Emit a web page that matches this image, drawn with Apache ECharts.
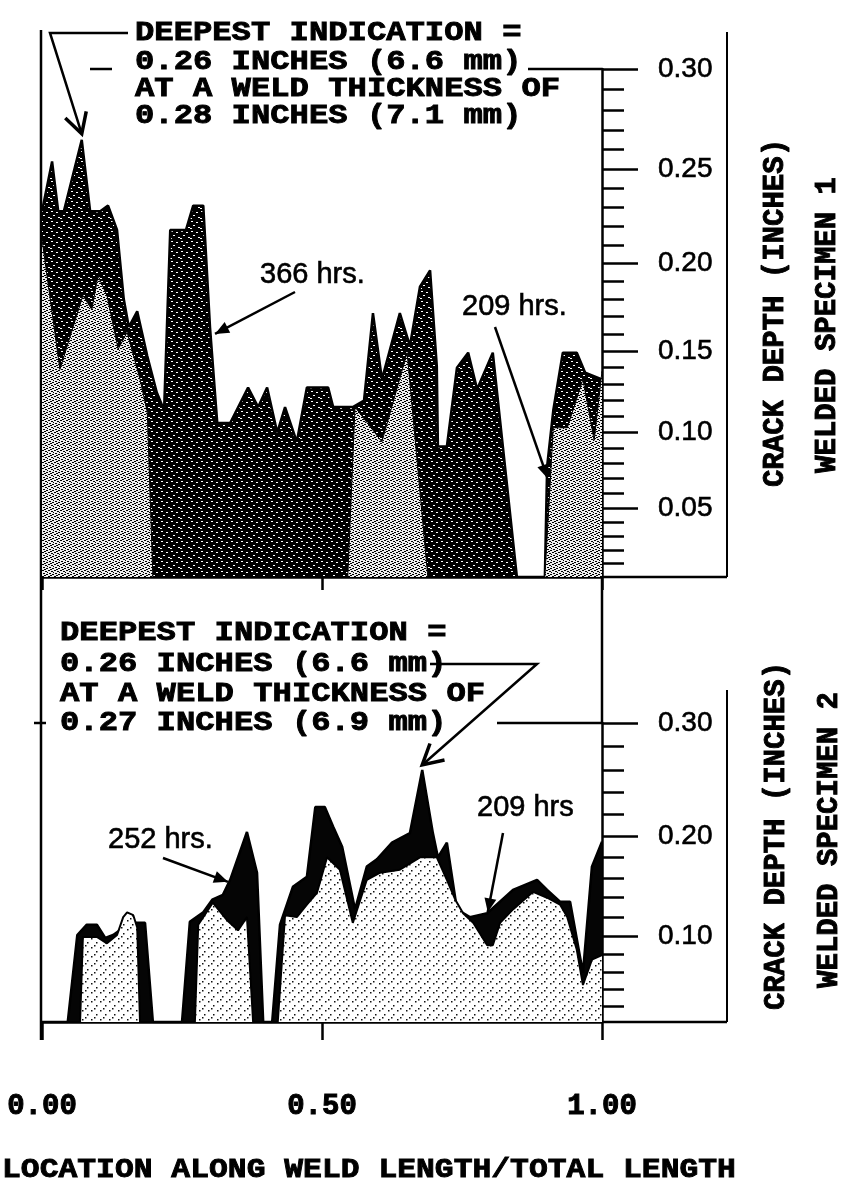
<!DOCTYPE html>
<html>
<head>
<meta charset="utf-8">
<title>Crack depth along weld length</title>
<script src="https://cdn.jsdelivr.net/npm/echarts@6/dist/echarts.min.js"></script>
<style>
  html, body { margin: 0; padding: 0; background: #fff; }
  #chart { width: 853px; height: 1192px; }
</style>
</head>
<body>
<div id="chart"></div>
<script>
// welded specimen 1 (upper panel)
const spec1LongX = [0.000, 0.018, 0.029, 0.039, 0.071, 0.086, 0.104, 0.118, 0.134, 0.146, 0.155, 0.170, 0.188, 0.205, 0.218,
  0.229, 0.257, 0.270, 0.288, 0.300, 0.313, 0.336, 0.368, 0.386, 0.402, 0.420, 0.434, 0.455, 0.473, 0.511, 0.520, 0.555,
  0.575, 0.591, 0.607, 0.639, 0.657, 0.675, 0.693, 0.705, 0.707, 0.723, 0.741, 0.761, 0.777, 0.805, 0.823, 0.848, 0.898,
  0.902, 0.913, 0.930, 0.955, 0.970, 1.000];
const spec1LongDepth = [0.228, 0.254, 0.228, 0.228, 0.265, 0.228, 0.228, 0.231, 0.218, 0.180, 0.164, 0.173, 0.147, 0.125, 0.114,
  0.218, 0.218, 0.231, 0.231, 0.164, 0.106, 0.106, 0.128, 0.116, 0.128, 0.100, 0.116, 0.094, 0.128, 0.128, 0.116, 0.116,
  0.120, 0.172, 0.133, 0.172, 0.153, 0.187, 0.196, 0.141, 0.091, 0.091, 0.140, 0.149, 0.127, 0.149, 0.091, 0.000, 0.000,
  0.078, 0.114, 0.149, 0.149, 0.137, 0.133];
const spec1ShortX = [0.000, 0.032, 0.073, 0.089, 0.100, 0.116, 0.136, 0.152, 0.175, 0.188, 0.198, 0.546, 0.559, 0.607,
  0.652, 0.689, 0.898, 0.913, 0.938, 0.966, 0.986, 1.000];
const spec1ShortDepth = [0.213, 0.139, 0.182, 0.174, 0.193, 0.182, 0.151, 0.161, 0.133, 0.113, 0.000, 0.000, 0.116, 0.094,
  0.149, 0.000, 0.000, 0.103, 0.103, 0.133, 0.095, 0.138];

// welded specimen 2 (lower panel)
const spec2LongX = [0.000, 0.046, 0.063, 0.080, 0.098, 0.113, 0.127, 0.139, 0.163, 0.184, 0.198, 0.250, 0.264, 0.288, 0.304,
  0.323, 0.336, 0.366, 0.384, 0.395, 0.411, 0.425, 0.448, 0.473, 0.488, 0.505, 0.520, 0.536, 0.559, 0.580, 0.598, 0.625,
  0.657, 0.679, 0.698, 0.707, 0.723, 0.741, 0.764, 0.795, 0.841, 0.884, 0.902, 0.925, 0.943, 0.966, 0.982, 1.000];
const spec2LongDepth = [0.000, 0.000, 0.101, 0.112, 0.112, 0.098, 0.101, 0.106, 0.114, 0.114, 0.000, 0.000, 0.115, 0.125, 0.138,
  0.143, 0.158, 0.204, 0.165, 0.000, 0.000, 0.112, 0.151, 0.161, 0.227, 0.227, 0.209, 0.190, 0.128, 0.171, 0.178, 0.194,
  0.203, 0.260, 0.203, 0.180, 0.194, 0.128, 0.120, 0.124, 0.148, 0.158, 0.148, 0.136, 0.136, 0.059, 0.171, 0.195];
const spec2ShortX = [0.000, 0.068, 0.073, 0.098, 0.116, 0.134, 0.145, 0.152, 0.163, 0.170, 0.175, 0.273, 0.279, 0.305, 0.330,
  0.350, 0.366, 0.377, 0.421, 0.434, 0.455, 0.473, 0.491, 0.509, 0.532, 0.555, 0.580, 0.604, 0.639, 0.675, 0.705, 0.723,
  0.738, 0.752, 0.770, 0.795, 0.805, 0.818, 0.841, 0.877, 0.902, 0.925, 0.938, 0.955, 0.966, 0.982, 1.000];
const spec2ShortDepth = [0.000, 0.000, 0.099, 0.099, 0.092, 0.101, 0.120, 0.125, 0.122, 0.109, 0.000, 0.000, 0.112, 0.135, 0.117,
  0.106, 0.120, 0.000, 0.000, 0.122, 0.120, 0.133, 0.145, 0.180, 0.168, 0.114, 0.158, 0.165, 0.168, 0.180, 0.180, 0.158,
  0.138, 0.124, 0.114, 0.090, 0.090, 0.114, 0.128, 0.146, 0.140, 0.133, 0.120, 0.085, 0.045, 0.074, 0.079];

const xTickValues = [0, 0.5, 1];
const xTickLabels = ['0.00', '0.50', '1.00'];
const spec1TickLabels = ['0.05', '0.10', '0.15', '0.20', '0.25', '0.30'];
const spec2TickLabels = ['0.10', '0.20', '0.30'];

const MONO = '"Liberation Mono", "Courier New", monospace';
const SANS = '"Liberation Sans", Arial, sans-serif';

// the printed depth scales are not linear: tick spacing shrinks toward zero
const K1 = 0.94;
const K2 = 0.86;
function stretch(v, k) { return v + k * v * v; }
function unstretch(t, k) { return (-1 + Math.sqrt(1 + 4 * k * t)) / (2 * k); }
function pairs(xs, vs, k) { return xs.map((x, i) => [x, stretch(vs[i], k)]); }

function tile(size, bg, fg, dots, w, h) {
  const c = document.createElement('canvas');
  c.width = size; c.height = size;
  const ctx = c.getContext('2d');
  ctx.fillStyle = bg;
  ctx.fillRect(0, 0, size, size);
  ctx.fillStyle = fg;
  dots.forEach(d => ctx.fillRect(d[0], d[1], w, h));
  return { image: c, repeat: 'repeat' };
}
const darkFill = tile(10, '#000', '#fff', [[1, 1], [6, 2], [3, 5], [8, 7], [0, 8]], 2, 1);
const lightFill1 = tile(6, '#eeeeee', '#000', [[0, 0], [3, 1], [1, 3], [4, 4], [2, 5], [5, 2]], 2, 1);
const lightFill2 = tile(9, '#fff', '#111', [[1, 2], [6, 6], [4, 0]], 1.5, 1.5);

function minorTicks(step, count, k) {
  let out = [];
  for (let i = 1; i <= count; i++) out.push(stretch(+(i * step).toFixed(2), k));
  return out;
}

const GRID_TOP = { left: 42, top: 69, width: 560, height: 508 };
const GRID_BOTTOM = { left: 42, top: 723, width: 560, height: 299 };

function majorAxis(grid, k, labels) {
  const ticks = labels.map(s => stretch(parseFloat(s), k));
  return {
    gridIndex: grid, type: 'value', position: 'right', min: 0, max: stretch(0.30, k),
    axisLine: { show: true, onZero: false, lineStyle: { color: '#000', width: 2.5 } },
    axisTick: { show: true, customValues: ticks, length: 36, lineStyle: { color: '#000', width: 2.5 } },
    axisLabel: {
      show: true, customValues: ticks, margin: 56,
      formatter: v => unstretch(v, k).toFixed(2),
      color: '#000', fontFamily: SANS, fontSize: 28,
      textBorderColor: '#000', textBorderWidth: 0.6
    },
    splitLine: { show: false }
  };
}
// minor ticks live on a twin grid so both tick lengths sit on the right side
function minorAxis(grid, k, step, count) {
  return {
    gridIndex: grid, type: 'value', position: 'right', min: 0, max: stretch(0.30, k),
    axisLine: { show: false, onZero: false },
    axisTick: { show: true, customValues: minorTicks(step, count, k), length: 22, lineStyle: { color: '#000', width: 2.5 } },
    axisLabel: { show: false }, splitLine: { show: false }
  };
}

function xAxisFor(grid, tickLen, showLabels) {
  return {
    gridIndex: grid, type: 'value', min: 0, max: 1,
    axisLine: { show: true, onZero: false, lineStyle: { color: '#000', width: 2.5 } },
    axisTick: { show: true, customValues: xTickValues, length: tickLen, lineStyle: { color: '#000', width: 2.5 } },
    axisLabel: {
      show: showLabels, customValues: xTickValues, margin: 70,
      formatter: v => xTickLabels[xTickValues.findIndex(t => Math.abs(t - v) < 1e-6)],
      color: '#000', fontFamily: MONO, fontWeight: 'bold', fontSize: 29,
      textBorderColor: '#000', textBorderWidth: 1
    },
    splitLine: { show: false }
  };
}

const chart = echarts.init(document.getElementById('chart'));
chart.setOption({
  animation: false,
  backgroundColor: '#fff',
  grid: [GRID_TOP, GRID_BOTTOM, GRID_TOP, GRID_BOTTOM],
  xAxis: [
    xAxisFor(0, 13, false),
    xAxisFor(1, 18, true),
    { gridIndex: 2, type: 'value', min: 0, max: 1, show: false, axisLine: { onZero: false } },
    { gridIndex: 3, type: 'value', min: 0, max: 1, show: false, axisLine: { onZero: false } }
  ],
  yAxis: [
    majorAxis(0, K1, spec1TickLabels),
    majorAxis(1, K2, spec2TickLabels),
    minorAxis(2, K1, 0.01, 30),
    minorAxis(3, K2, 0.02, 15)
  ],
  series: [
    {
      name: '366 hrs.', type: 'line', xAxisIndex: 0, yAxisIndex: 0, z: 2,
      data: pairs(spec1LongX, spec1LongDepth, K1), symbol: 'none',
      lineStyle: { color: '#000', width: 2.5 }, areaStyle: { color: darkFill, opacity: 1 }
    },
    {
      name: '209 hrs.', type: 'line', xAxisIndex: 0, yAxisIndex: 0, z: 3,
      data: pairs(spec1ShortX, spec1ShortDepth, K1), symbol: 'none',
      lineStyle: { color: '#000', width: 1 }, areaStyle: { color: lightFill1, opacity: 1 }
    },
    {
      name: '252 hrs.', type: 'line', xAxisIndex: 1, yAxisIndex: 1, z: 2,
      data: pairs(spec2LongX, spec2LongDepth, K2), symbol: 'none',
      lineStyle: { color: '#000', width: 2.5 }, areaStyle: { color: '#050505', opacity: 1 }
    },
    {
      name: '209 hrs', type: 'line', xAxisIndex: 1, yAxisIndex: 1, z: 3,
      data: pairs(spec2ShortX, spec2ShortDepth, K2), symbol: 'none',
      lineStyle: { color: '#000', width: 2 }, areaStyle: { color: lightFill2, opacity: 1 }
    }
  ]
});

// ---- annotations ----
function toPx(seriesIndex, x, v, k) {
  return chart.convertToPixel({ seriesIndex: seriesIndex }, [x, stretch(v, k)]);
}
function peakOf(xs, vs) {
  let best = 0;
  vs.forEach((v, i) => { if (v > vs[best]) best = i; });
  return [xs[best], vs[best]];
}
function text(str, x, y, font, opts) {
  opts = opts || {};
  return {
    type: 'text', x: x, y: y, silent: true,
    rotation: opts.rotation || 0, scaleX: opts.scaleX || 1,
    style: {
      text: str, font: font, fill: '#000',
      stroke: '#000', lineWidth: opts.heavy || 0,
      textAlign: opts.align || 'left', align: opts.align || 'left',
      textVerticalAlign: 'middle', verticalAlign: 'middle'
    }
  };
}
function seg(x1, y1, x2, y2, w) {
  return { type: 'line', silent: true, shape: { x1: x1, y1: y1, x2: x2, y2: y2 }, style: { stroke: '#000', lineWidth: w || 2.5 } };
}
function head(tail, tip, len, half, filled) {
  const dx = tip[0] - tail[0], dy = tip[1] - tail[1];
  const d = Math.hypot(dx, dy);
  const ux = dx / d, uy = dy / d;
  const bx = tip[0] - ux * len, by = tip[1] - uy * len;
  const p1 = [bx - uy * half, by + ux * half];
  const p2 = [bx + uy * half, by - ux * half];
  if (filled) return { type: 'polygon', silent: true, shape: { points: [tip, p1, p2] }, style: { fill: '#000' } };
  return { type: 'polyline', silent: true, shape: { points: [p1, tip, p2] }, style: { stroke: '#000', lineWidth: 3.5, fill: null } };
}
function arrow(tail, tip) {
  return [seg(tail[0], tail[1], tip[0], tip[1], 2.5), head(tail, tip, 14, 6, true)];
}

const monoFont = 'bold 28px ' + MONO;
const sansFont = '29px ' + SANS;

const y1Top = toPx(0, 0, 0.30, K1)[1];
const y1Base = toPx(0, 0, 0, K1)[1];
const y2Top = toPx(2, 0, 0.30, K2)[1];
const y2Base = toPx(2, 0, 0, K2)[1];
const xEnd = toPx(0, 1, 0, K1)[0];
const boxX = 727;

const peak1 = peakOf(spec1LongX, spec1LongDepth);
const tip1 = toPx(0, peak1[0], peak1[1], K1);
tip1[1] -= 6;
const peak2 = peakOf(spec2LongX, spec2LongDepth);
const tip2 = toPx(2, peak2[0], peak2[1], K2);
tip2[1] -= 5;

let g = [];
// frame pieces
g.push(seg(41, 30, 41, 1040));
g.push(seg(90, y1Top, 112, y1Top));
g.push(seg(528, y1Top, xEnd, y1Top));
g.push(seg(xEnd, y1Base, boxX, y1Base));
g.push(seg(boxX, 32, boxX, y1Base, 2));
g.push(seg(xEnd, y1Base, xEnd, y2Top));
g.push(seg(497, y2Top, xEnd, y2Top));
g.push(seg(34, y2Top, 46, y2Top));
g.push(seg(xEnd, y2Base, boxX, y2Base));
g.push(seg(boxX, 690, boxX, y2Base, 2));

// upper panel callout
['DEEPEST INDICATION =', '0.26 INCHES (6.6 mm)', 'AT A WELD THICKNESS OF', '0.28 INCHES (7.1 mm)']
  .forEach((s, i) => g.push(text(s, 135, [33, 62, 89, 116][i], monoFont, { scaleX: 1.15, heavy: 0.9 })));
g.push({ type: 'polyline', silent: true, shape: { points: [[128, 33], [50, 33], tip1] }, style: { stroke: '#000', lineWidth: 2.5, fill: null } });
g.push(head([50, 33], tip1, 20, 11, false));

// lower panel callout
['DEEPEST INDICATION =', '0.26 INCHES (6.6 mm)', 'AT A WELD THICKNESS OF', '0.27 INCHES (6.9 mm)']
  .forEach((s, i) => g.push(text(s, 60, [633, 664, 694, 723][i], monoFont, { scaleX: 1.15, heavy: 0.9 })));
g.push({ type: 'polyline', silent: true, shape: { points: [[430, 664], [537, 664], tip2] }, style: { stroke: '#000', lineWidth: 2.5, fill: null } });
g.push(head([537, 664], tip2, 20, 11, false));

// hours labels
g.push(text('366 hrs.', 260, 275, sansFont, { heavy: 0.6 }));
g = g.concat(arrow([295, 292], toPx(0, 0.309, 0.160, K1)));
g.push(text('209 hrs.', 462, 307, sansFont, { heavy: 0.6 }));
g = g.concat(arrow([495, 327], toPx(0, 0.903, 0.070, K1)));
g.push(text('252 hrs.', 108, 840, sansFont, { heavy: 0.6 }));
g = g.concat(arrow([163, 858], toPx(2, 0.332, 0.156, K2)));
g.push(text('209 hrs', 477, 808, sansFont, { heavy: 0.6 }));
g = g.concat(arrow([503, 833], toPx(2, 0.796, 0.125, K2)));

// axis titles
const titleFont = 'bold 29px ' + MONO;
g.push(text('CRACK DEPTH (INCHES)', 776, 313, titleFont, { rotation: Math.PI / 2, align: 'center', heavy: 0.9 }));
g.push(text('WELDED SPECIMEN 1', 828, 325, titleFont, { rotation: Math.PI / 2, align: 'center', heavy: 0.9 }));
g.push(text('CRACK DEPTH (INCHES)', 777, 836, titleFont, { rotation: Math.PI / 2, align: 'center', heavy: 0.9 }));
g.push(text('WELDED SPECIMEN 2', 830, 840, titleFont, { rotation: Math.PI / 2, align: 'center', heavy: 0.9 }));
g.push(text('LOCATION ALONG WELD LENGTH/TOTAL LENGTH', 2, 1170, monoFont, { scaleX: 1.12, heavy: 0.9 }));

chart.setOption({ graphic: { elements: g } });
</script>
</body>
</html>
